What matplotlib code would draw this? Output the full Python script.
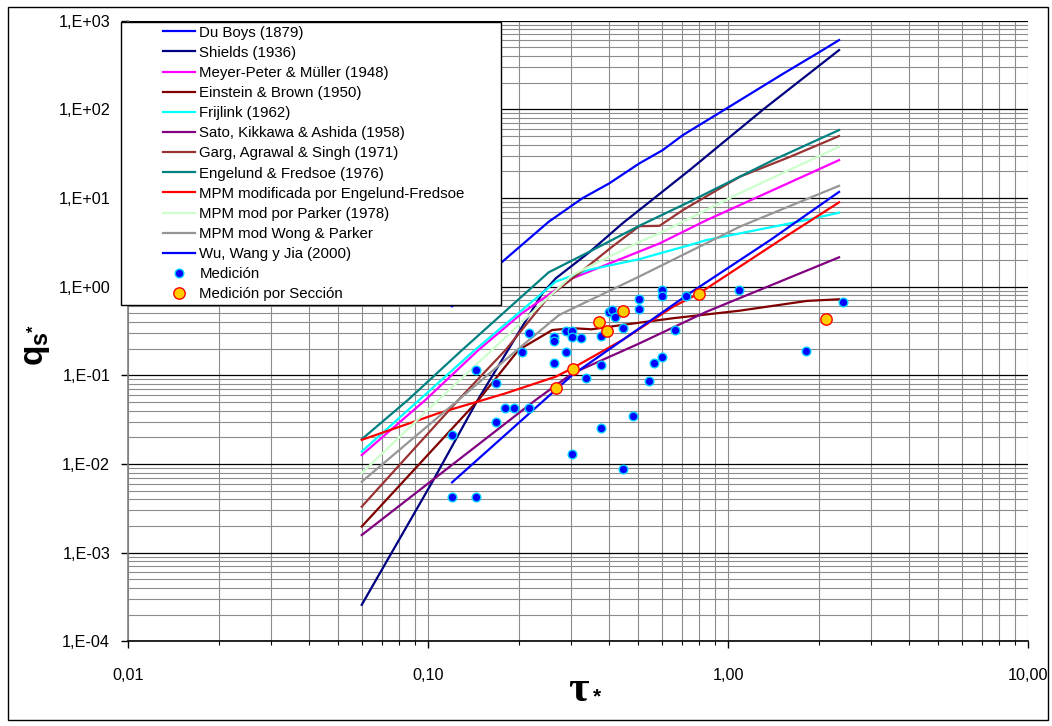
import numpy as np
import matplotlib
matplotlib.use('Agg')
import matplotlib.pyplot as plt
from matplotlib.ticker import LogLocator, FixedLocator, FixedFormatter, NullFormatter
from matplotlib.patches import Rectangle

plt.rcParams['font.family'] = ['Liberation Sans', 'DejaVu Sans']
plt.rcParams['mathtext.fontset'] = 'custom'
plt.rcParams['mathtext.rm'] = 'Liberation Sans'
plt.rcParams['mathtext.bf'] = 'Liberation Sans:bold'

# curvas
du_boys_x = [0.12, 0.174, 0.252, 0.326, 0.401, 0.505, 0.605, 0.706, 0.986, 1.53, 2.02, 2.34]
du_boys_y = [0.6, 1.83, 5.39, 9.9, 14.6, 24.5, 34.7, 51.2, 102, 254, 445, 603]

shields_x = [0.06, 0.104, 0.145, 0.24, 0.266, 0.344, 0.444, 0.743, 1.31, 2.34]
shields_y = [0.000258, 0.0066, 0.0504, 0.84, 1.24, 2.44, 5.17, 20.6, 100, 465]

mpm_x = [0.06, 0.098, 0.147, 0.205, 0.302, 0.59, 0.845, 2.34]
mpm_y = [0.0126, 0.053, 0.193, 0.5, 1.24, 3.07, 5.6, 26.7]

einstein_x = [0.06, 0.147, 0.2, 0.259, 0.302, 0.35, 0.444, 0.655, 1.09, 1.83, 2.34]
einstein_y = [0.00197, 0.0527, 0.193, 0.324, 0.34, 0.33, 0.37, 0.44, 0.535, 0.69, 0.72]

frijlink_x = [0.06, 0.143, 0.266, 0.344, 0.505, 0.743, 0.845, 1.61, 2.34]
frijlink_y = [0.0138, 0.193, 1.14, 1.55, 2.04, 2.94, 3.35, 5.17, 6.81]

sato_x = [0.06, 0.228, 0.302, 0.5, 0.845, 2.34]
sato_y = [0.00158, 0.0527, 0.105, 0.225, 0.52, 2.14]

garg_x = [0.06, 0.126, 0.181, 0.252, 0.318, 0.41, 0.505, 0.59, 0.706, 1.09, 1.61, 2.34]
garg_y = [0.0033, 0.0527, 0.193, 0.77, 1.41, 2.82, 4.8, 4.85, 7.3, 17.3, 29.2, 49.9]

engelund_x = [0.06, 0.0857, 0.129, 0.252, 0.344, 0.505, 0.743, 1.41, 2.34]
engelund_y = [0.019, 0.053, 0.19, 1.45, 2.47, 4.85, 9.06, 26.7, 58.3]

mpm_ef_x = [0.06, 0.108, 0.181, 0.266, 0.302, 0.444, 0.655, 0.8, 1.49, 2.34]
mpm_ef_y = [0.0187, 0.0373, 0.0626, 0.0965, 0.12, 0.25, 0.594, 0.84, 3.35, 8.92]

parker_x = [0.06, 0.108, 0.18, 0.302, 0.505, 0.59, 1.09, 2.34]
parker_y = [0.0079, 0.0527, 0.264, 1.35, 3.2, 3.99, 11.3, 37.8]

wong_x = [0.06, 0.126, 0.2, 0.273, 0.505, 1.09, 2.34]
wong_y = [0.0063, 0.0527, 0.2, 0.479, 1.3, 4.73, 13.7]

wu_x = [0.12, 0.302, 0.743, 1.38, 2.34]
wu_y = [0.0062, 0.1007, 0.84, 3.35, 11.7]

# mediciones
med_x = [0.1197, 0.1445, 0.1686, 0.1806, 0.1926, 0.216, 0.1686, 0.2056, 0.216, 0.263,
         0.263, 0.263, 0.288, 0.302, 0.302, 0.288, 0.324, 0.336, 0.302, 0.376,
         0.376, 0.376, 0.399, 0.409, 0.42, 0.447, 0.447, 0.48, 0.5025, 0.5025,
         0.546, 0.5635, 0.5997, 0.5997, 0.5997, 0.6645, 0.7226, 1.085, 1.82, 2.41,
         0.1204, 0.1445]
med_y = [0.0212, 0.115, 0.0811, 0.0431, 0.0431, 0.0431, 0.030, 0.1845, 0.298, 0.268,
         0.245, 0.139, 0.316, 0.316, 0.272, 0.1845, 0.265, 0.094, 0.0129, 0.277,
         0.13, 0.0257, 0.513, 0.54, 0.451, 0.344, 0.00872, 0.0347, 0.72, 0.559,
         0.0862, 0.139, 0.916, 0.783, 0.162, 0.324, 0.783, 0.91, 0.189, 0.67,
         0.00428, 0.00428]

sec_x = [0.2674, 0.3045, 0.371, 0.394, 0.446, 0.797, 2.12]
sec_y = [0.0724, 0.117, 0.402, 0.318, 0.531, 0.832, 0.428]

x_ticks = [0.01, 0.1, 1, 10]
x_ticklabels = ['0,01', '0,10', '1,00', '10,00']
y_ticks = [1e-4, 1e-3, 1e-2, 1e-1, 1e0, 1e1, 1e2, 1e3]
y_ticklabels = ['1,E-04', '1,E-03', '1,E-02', '1,E-01', '1,E+00', '1,E+01', '1,E+02', '1,E+03']

W, H = 1052, 726
fig = plt.figure(figsize=(W / 100, H / 100), dpi=100)
fig.patch.set_facecolor('white')

# area del grafico en pixeles
x0, x1 = 128.3, 1028.3
y0, y1 = 20.6, 641.3
ax = fig.add_axes([x0 / W, 1 - y1 / H, (x1 - x0) / W, (y1 - y0) / H])
ax.set_xscale('log')
ax.set_yscale('log')
ax.set_xlim(0.01, 10)
ax.set_ylim(1e-4, 1e3)

series = [
    (du_boys_x, du_boys_y, '#0000FF', 'Du Boys (1879)'),
    (shields_x, shields_y, '#000080', 'Shields (1936)'),
    (mpm_x, mpm_y, '#FF00FF', 'Meyer-Peter & Müller (1948)'),
    (einstein_x, einstein_y, '#800000', 'Einstein & Brown (1950)'),
    (frijlink_x, frijlink_y, '#00FFFF', 'Frijlink (1962)'),
    (sato_x, sato_y, '#800080', 'Sato, Kikkawa & Ashida (1958)'),
    (garg_x, garg_y, '#993333', 'Garg, Agrawal & Singh (1971)'),
    (engelund_x, engelund_y, '#008080', 'Engelund & Fredsoe (1976)'),
    (mpm_ef_x, mpm_ef_y, '#FF0000', 'MPM modificada por Engelund-Fredsoe'),
    (parker_x, parker_y, '#CCFFCC', 'MPM mod por Parker (1978)'),
    (wong_x, wong_y, '#969696', 'MPM mod Wong & Parker'),
    (wu_x, wu_y, '#0000FF', 'Wu, Wang y Jia (2000)'),
]
handles = []
for xs, ys, col, lab in series:
    ln, = ax.plot(xs, ys, color=col, lw=1.6, label=lab, zorder=3)
    handles.append(ln)

h1, = ax.plot(med_x, med_y, ls='none', marker='o', ms=6.2, mfc='#0000FF',
              mec='#00CCFF', mew=1.0, label='Medición', zorder=4)
h2, = ax.plot(sec_x, sec_y, ls='none', marker='o', ms=8.2, mfc='#FFCC00',
              mec='#FF0000', mew=1.0, label='Medición por Sección', zorder=5)
handles += [h1, h2]

# ejes y rejilla
ax.xaxis.set_major_locator(FixedLocator(x_ticks))
ax.xaxis.set_major_formatter(FixedFormatter(x_ticklabels))
ax.xaxis.set_minor_locator(LogLocator(base=10, subs=np.arange(2, 10), numticks=100))
ax.xaxis.set_minor_formatter(NullFormatter())
ax.yaxis.set_major_locator(FixedLocator(y_ticks))
ax.yaxis.set_major_formatter(FixedFormatter(y_ticklabels))
ax.yaxis.set_minor_locator(LogLocator(base=10, subs=np.arange(2, 10), numticks=100))
ax.yaxis.set_minor_formatter(NullFormatter())

ax.grid(which='major', axis='y', color='black', lw=0.9, zorder=0)
ax.grid(which='minor', axis='y', color='#8c8c8c', lw=0.8, zorder=0)
ax.grid(which='both', axis='x', color='#8c8c8c', lw=0.8, zorder=0)
ax.set_axisbelow(True)

ax.tick_params(axis='x', which='major', direction='out', length=5, width=1, pad=14,
               labelsize=11.7, colors='black')
ax.tick_params(axis='x', which='minor', direction='out', length=3, width=0.8)
ax.tick_params(axis='y', which='major', direction='out', length=5, width=1, pad=8,
               labelsize=11.7)
ax.tick_params(axis='y', which='minor', length=0)

ax.spines['top'].set_visible(False)
ax.spines['right'].set_visible(False)
ax.spines['left'].set_color('#808080')
ax.spines['left'].set_linewidth(1.2)
ax.spines['bottom'].set_color('black')
ax.spines['bottom'].set_linewidth(1.2)

# titulos de ejes
fig.text(36 / W, 1 - 345 / H, r'$\mathbf{q}_{\mathbf{s}^{\mathbf{*}}}$', rotation=90,
         fontsize=24, ha='center', va='center')
fig.text(578 / W, 1 - 690 / H, 'τ', family='Liberation Serif', fontweight='bold',
         fontsize=32, ha='center', va='center')
fig.text(597 / W, 1 - 697 / H, '*', fontweight='bold', fontsize=15,
         ha='center', va='center')

# leyenda con marco propio
fig.patches.append(Rectangle((121 / W, 1 - 305 / H), 380 / W, 283 / H,
                             transform=fig.transFigure, facecolor='white',
                             edgecolor='black', lw=1.0, zorder=3))
fig.legend(handles, [h.get_label() for h in handles], loc='upper left',
           bbox_to_anchor=(163 / W, 1 - 25.5 / H), frameon=False, borderpad=0,
           borderaxespad=0, handlelength=2.13, handletextpad=0.3,
           labelspacing=0.41, fontsize=10.8)

# borde exterior
fig.patches.append(Rectangle((8 / W, 6 / H), 1040 / W, 713 / H,
                             transform=fig.transFigure, facecolor='none',
                             edgecolor='black', lw=1.0, zorder=2))

fig.savefig('out.png', dpi=100)
